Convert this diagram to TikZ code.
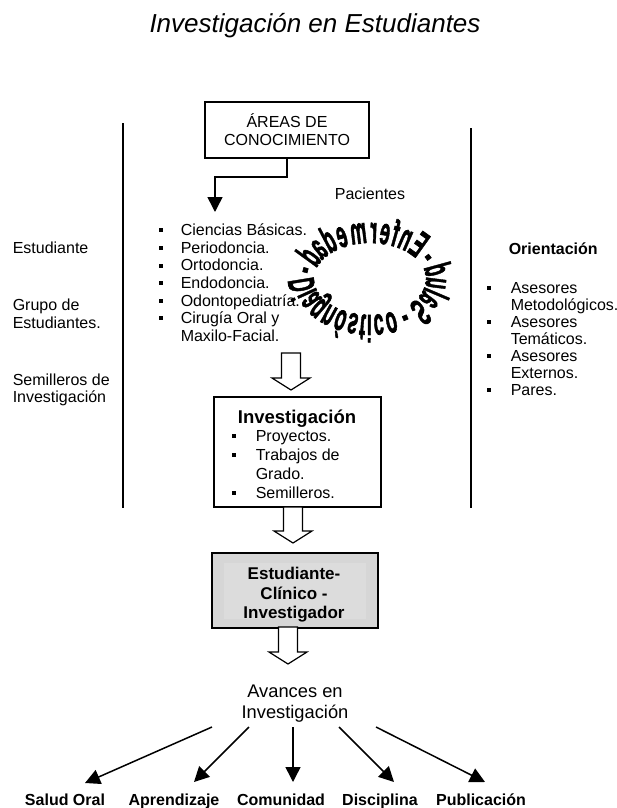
\documentclass[tikz,border=0pt]{standalone}
\usepackage{graphicx}
\usepackage{fontspec}
\setmainfont{Liberation Sans}
\newfontfamily\ringfont{Liberation Sans}[FakeBold=2]
\usetikzlibrary{arrows.meta}
\newcommand{\myfs}[1]{\fontsize{#1}{#1}\selectfont}
\definecolor{boxgray}{RGB}{214,214,214}
\definecolor{innergray}{RGB}{220,220,220}
\newcommand{\hollowarrow}[3]{% x ytop ytip
  \draw[line width=1.2pt, fill=white, line join=miter] (#1-9.5,#2) -- (#1-9.5,#3-12) -- (#1-19,#3-12) -- (#1,#3) -- (#1+19,#3-12) -- (#1+9.5,#3-12) -- (#1+9.5,#2) -- cycle;}
\newcommand{\ringglyph}[1]{\scalebox{-0.85}[1.75]{#1}}
\begin{document}
\begin{tikzpicture}[x=1pt,y=-1pt, line width=1.5pt,
  txt/.style={font=\myfs{16}, anchor=base west, inner sep=0pt},
  txtc/.style={font=\myfs{16}, anchor=base, inner sep=0pt},
  mybox/.style={draw, line width=1.5pt, inner sep=0pt},
  ringch/.style={anchor=base, inner sep=0pt, rotate=#1, font=\ringfont\myfs{21.5}\bfseries},
  arr/.style={-{Triangle[width=15pt,length=15pt]}},
  outlbl/.style={font=\myfs{16}\bfseries, anchor=base, inner sep=0pt}]

\fill[white] (0,0) rectangle (617,808);
\useasboundingbox (0,0) rectangle (617,808);

% title
\node[txtc, font=\myfs{26}\itshape] (title) at (315,33) {Investigación en Estudiantes};

% areas box
\node[mybox, minimum width=164pt, minimum height=56pt] (areas) at (287,130) {};
\node[txtc] (areasA) at (287,127.3) {ÁREAS DE};
\node[txtc] (areasB) at (287,145) {CONOCIMIENTO};
\coordinate (bend) at (215,177);
\coordinate (listtip) at (215,212);
\draw[arr] (areas.south) |- (bend) -- (listtip);

% vertical dividers
\draw (123,123) -- (123,508);
\draw (471,128) -- (471,508);

% left column
\node[txt] (stud) at (12,253) {Estudiante};
\node[txt] (grupoA) at (12,310) {Grupo de};
\node[txt] (grupoB) at (12,328) {Estudiantes.};
\node[txt] (semA) at (12,385) {Semilleros de};
\node[txt] (semB) at (12,402) {Investigación};

% areas list
\foreach \lbl/\yy/\bb [count=\ii] in {Ciencias Básicas./235.7/1, Periodoncia./253.3/1, Ortodoncia./270.9/1, Endodoncia./288.5/1, Odontopediatría./306.1/1, Cirugía Oral y/323.7/1, Maxilo-Facial./341.3/0}{
  \node[txt] (area\ii) at (180,\yy) {\lbl};
  \ifnum\bb=1 \fill (159,\yy-7.3) rectangle (163,\yy-3.3); \fi
}

\node[txtc] (pac) at (370,199) {Pacientes};

% right column
\node[txt, font=\myfs{16}\bfseries] (orient) at (508,254) {Orientación};
\foreach \lbl/\yy/\bb [count=\ii] in {Asesores/293/1, Metodológicos./310/0, Asesores/327/1, Temáticos./344/0, Asesores/361/1, Externos./378/0, Pares./395/1}{
  \node[txt] (ori\ii) at (510,\yy) {\lbl};
  \ifnum\bb=1 \fill (486.5,\yy-7.3) rectangle (490.5,\yy-3.3); \fi
}

% ring text (mirrored word-art circle)
\foreach \ch/\ang [count=\ii] in {E/42, n/56.1, f/66.4, e/76.2, r/86.6, m/100.6, e/116.5, d/129.3, a/142.1, d/155, -/170, D/186, i/196.3, a/204.9, g/216.9, n/229.5, ó/242, s/254, t/263.2, i/269.4, c/278, o/290, -/304, S/320, a/334.7, l/344.7, u/355.4, d/370, -/26}{
  \pgfmathsetmacro\nx{370+56*cos(\ang)}
  \pgfmathsetmacro\ny{279-36*sin(\ang)}
  \pgfmathsetmacro\rot{atan2(56*sin(\ang),36*cos(\ang))-90}
  \node[ringch=\rot] (ring\ii) at (\nx,\ny) {\ringglyph{\ch}};
}

% arrow 1
\hollowarrow{291}{353}{390}

% investigacion box
\node[mybox, minimum width=167pt, minimum height=110pt] (inv) at (297.5,452) {};
\node[txtc, font=\myfs{18.5}\bfseries] (invT) at (297,423.5) {Investigación};
\foreach \lbl/\yy/\bb [count=\ii] in {Proyectos./441.7/1, Trabajos de/460.6/1, Grado./479.5/0, Semilleros./498.4/1}{
  \node[txt] (inv\ii) at (255,\yy) {\lbl};
  \ifnum\bb=1 \fill (231.5,\yy-7.3) rectangle (235.5,\yy-3.3); \fi
}

% arrow 2
\hollowarrow{293}{507}{543}

% gray box
\node[mybox, fill=boxgray, minimum width=166pt, minimum height=75pt] (eci) at (295,590.5) {};
\fill[innergray] (224,563) rectangle (366,619);
\node[txtc, font=\myfs{17}\bfseries] (eciA) at (294,579) {Estudiante-};
\node[txtc, font=\myfs{17}\bfseries] (eciB) at (294,599) {Clínico -};
\node[txtc, font=\myfs{17}\bfseries] (eciC) at (294,618.3) {Investigador};

% arrow 3
\hollowarrow{288}{627}{664}

% avances
\node[txtc, font=\myfs{18.3}] (avA) at (295,697.3) {Avances en};
\node[txtc, font=\myfs{18.3}] (avB) at (295,718.7) {Investigación};

% outcome labels
\node[outlbl] (salud) at (65,805) {Salud Oral};
\node[outlbl] (aprend) at (174,805) {Aprendizaje};
\node[outlbl] (comun) at (281,805) {Comunidad};
\node[outlbl] (disc) at (380,805) {Disciplina};
\node[outlbl] (pub) at (481,805) {Publicación};

\coordinate (s1) at (212,727); \coordinate (t1) at (85,783);
\coordinate (s2) at (249,727); \coordinate (t2) at (194,782);
\coordinate (s3) at (293,727); \coordinate (t3) at (293,782);
\coordinate (s4) at (339,727); \coordinate (t4) at (394,782);
\coordinate (s5) at (376,727); \coordinate (t5) at (485,782);
\draw[arr] (s1) -- (t1);
\draw[arr] (s2) -- (t2);
\draw[arr] (s3) -- (t3);
\draw[arr] (s4) -- (t4);
\draw[arr] (s5) -- (t5);
\end{tikzpicture}
\end{document}
